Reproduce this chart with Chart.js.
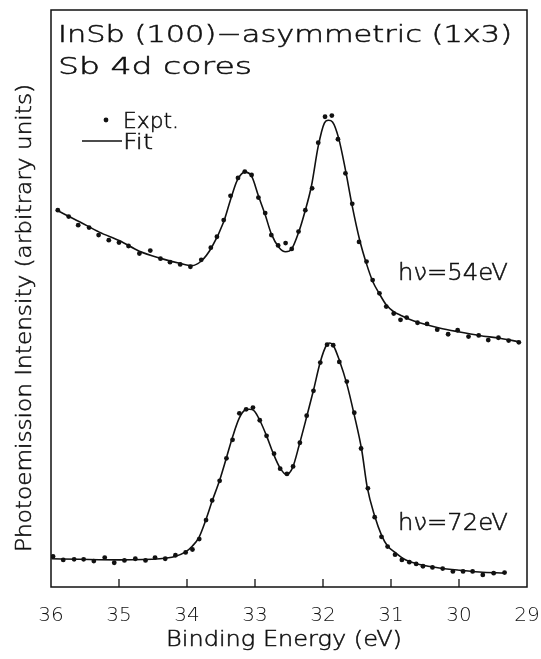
<!DOCTYPE html>
<html>
<head>
<meta charset="utf-8">
<script src="https://cdn.jsdelivr.net/npm/chart.js@4/dist/chart.umd.min.js"></script>
<style>
  html, body { margin: 0; padding: 0; background: #fff; }
</style>
</head>
<body>
<canvas id="myChart" width="541" height="659"></canvas>
<script>
// Sb 4d core level spectra, InSb(100) asymmetric (1x3)
const xTickValues = [36, 35, 34, 33, 32, 31, 30, 29];

// hv = 54 eV, measured points
const energy54 = [35.90, 35.74, 35.60, 35.44, 35.30, 35.15, 35.00, 34.86, 34.70, 34.54, 34.39, 34.25, 34.10, 33.95,
  33.79, 33.65, 33.56, 33.46, 33.36, 33.25, 33.15, 33.05, 32.95, 32.85, 32.76, 32.66, 32.55, 32.46, 32.36, 32.26,
  32.16, 32.07, 31.97, 31.87, 31.78, 31.67, 31.57, 31.47, 31.36, 31.27, 31.17, 31.07, 30.96, 30.86, 30.77, 30.61,
  30.47, 30.32, 30.16, 30.02, 29.86, 29.71, 29.57, 29.42, 29.27, 29.12];
const expt54 = [65.3, 64.2, 62.7, 62.3, 61.0, 60.1, 59.7, 59.1, 57.8, 58.3, 56.9, 56.3, 55.9, 55.5,
  56.7, 58.8, 60.7, 63.6, 67.8, 70.9, 72.0, 71.4, 67.5, 64.8, 61.0, 59.2, 59.6, 58.6, 61.6, 65.3,
  69.1, 77.0, 81.5, 81.7, 77.6, 71.7, 66.4, 59.8, 56.4, 53.2, 50.9, 48.6, 47.4, 46.3, 46.7, 45.8,
  45.6, 44.6, 43.8, 44.5, 43.4, 43.6, 42.8, 43.2, 42.7, 42.4];

// hv = 54 eV, fit curve
const fitEnergy54 = [35.90, 35.58, 35.29, 34.99, 34.70, 34.40, 34.11, 33.93, 33.79, 33.64, 33.46, 33.36, 33.26,
  33.15, 33.05, 32.95, 32.85, 32.76, 32.65, 32.55, 32.46, 32.36, 32.26, 32.17, 32.07, 31.98, 31.92, 31.86,
  31.77, 31.67, 31.57, 31.46, 31.36, 31.27, 31.17, 31.07, 30.96, 30.86, 30.73, 30.58, 30.29, 29.99, 29.70,
  29.40, 29.11];
const fit54 = [65.2, 63.3, 61.5, 60.0, 58.2, 57.0, 56.1, 55.7, 56.5, 58.8, 63.3, 67.1, 70.5,
  71.9, 71.2, 67.8, 64.5, 61.2, 58.9, 58.1, 58.6, 61.4, 65.3, 69.5, 76.4, 80.4, 80.9, 80.6,
  77.8, 72.3, 66.0, 60.1, 56.0, 53.0, 50.8, 48.9, 47.7, 47.1, 46.4, 45.8, 44.9, 44.2, 43.6,
  43.1, 42.5];

// hv = 72 eV, measured points
const energy72 = [35.97, 35.82, 35.66, 35.52, 35.37, 35.21, 35.07, 34.92, 34.76, 34.61, 34.47, 34.32, 34.17,
  34.02, 33.92, 33.82, 33.72, 33.63, 33.52, 33.42, 33.33, 33.23, 33.13, 33.03, 32.93, 32.83, 32.72, 32.63,
  32.53, 32.44, 32.34, 32.24, 32.14, 32.04, 31.94, 31.85, 31.76, 31.65, 31.54, 31.44, 31.34, 31.24, 31.14,
  31.05, 30.94, 30.84, 30.73, 30.63, 30.53, 30.39, 30.24, 30.09, 29.94, 29.80, 29.65, 29.49, 29.33];
const expt72 = [5.3, 4.7, 4.8, 4.8, 4.5, 5.1, 4.2, 4.6, 4.9, 4.6, 5.1, 4.9, 5.5,
  6.0, 6.5, 8.3, 11.6, 15.0, 18.4, 22.3, 25.5, 30.1, 30.8, 31.1, 28.9, 26.2, 23.1, 20.5,
  19.6, 20.9, 25.0, 29.7, 34.0, 38.9, 42.0, 41.9, 39.0, 35.6, 30.2, 24.0, 17.1, 12.1, 8.7,
  7.0, 5.6, 4.7, 4.3, 4.0, 3.6, 3.4, 3.2, 2.7, 2.7, 2.7, 2.1, 2.4, 2.5];

// hv = 72 eV, fit curve
const fitEnergy72 = [35.99, 35.58, 34.99, 34.40, 34.18, 34.02, 33.92, 33.82, 33.73, 33.63, 33.52, 33.42, 33.33,
  33.23, 33.14, 33.08, 33.01, 32.93, 32.83, 32.73, 32.63, 32.54, 32.45, 32.35, 32.24, 32.14, 32.04, 31.95,
  31.90, 31.85, 31.76, 31.65, 31.54, 31.43, 31.35, 31.24, 31.14, 31.05, 30.93, 30.83, 30.73, 30.58, 30.29,
  29.99, 29.70, 29.33];
const fit72 = [4.9, 4.8, 4.7, 4.9, 5.3, 6.1, 7.1, 8.7, 11.4, 14.9, 18.5, 22.4, 26.0,
  29.3, 30.7, 30.8, 30.5, 28.9, 26.2, 23.1, 20.6, 19.5, 20.6, 24.6, 29.5, 34.1, 39.0, 41.9,
  42.3, 41.9, 39.3, 35.2, 29.8, 23.7, 17.3, 12.3, 9.0, 7.1, 5.9, 5.0, 4.4, 3.9, 3.3,
  2.9, 2.6, 2.4];

const FONT = '"DejaVu Sans", sans-serif';
const WEIGHT = '200';
const INK = '#111';

const toPoints = (xs, ys) => xs.map((x, i) => ({ x: x, y: ys[i] }));

// draw text squeezed/stretched to a given width, with a hairline stroke to thicken it a bit
function wideText(ctx, text, x, y, size, width, align) {
  ctx.save();
  ctx.font = WEIGHT + ' ' + size + 'px ' + FONT;
  const w = ctx.measureText(text).width;
  ctx.translate(x, y);
  ctx.scale(width ? width / w : 1, 1);
  ctx.textAlign = align || 'left';
  ctx.textBaseline = 'alphabetic';
  ctx.fillStyle = INK;
  ctx.strokeStyle = INK;
  ctx.lineWidth = 0.5;
  ctx.fillText(text, 0, 0);
  ctx.strokeText(text, 0, 0);
  ctx.restore();
}

const decorations = {
  id: 'decorations',
  afterDraw(chart) {
    const ctx = chart.ctx;
    const a = chart.chartArea;
    const xs = chart.scales.x;
    ctx.save();
    ctx.strokeStyle = INK;
    ctx.lineWidth = 1.5;
    ctx.strokeRect(a.left, a.top, a.right - a.left, a.bottom - a.top);
    // inward ticks along the bottom
    ctx.lineWidth = 1.3;
    xTickValues.forEach(v => {
      const px = xs.getPixelForValue(v);
      if (px <= a.left + 1 || px >= a.right - 1) return;
      ctx.beginPath();
      ctx.moveTo(px, a.bottom);
      ctx.lineTo(px, a.bottom - 8);
      ctx.stroke();
    });
    ctx.restore();

    wideText(ctx, 'InSb (100)\u2212asymmetric (1x3)', 58, 42, 23, 454);
    wideText(ctx, 'Sb 4d cores', 58, 74, 23, 194);

    // legend
    ctx.save();
    ctx.fillStyle = INK;
    ctx.beginPath();
    ctx.arc(106, 120, 2.4, 0, Math.PI * 2);
    ctx.fill();
    ctx.strokeStyle = INK;
    ctx.lineWidth = 1.4;
    ctx.beginPath();
    ctx.moveTo(82, 141);
    ctx.lineTo(122, 141);
    ctx.stroke();
    ctx.restore();
    wideText(ctx, 'Expt.', 123, 128, 22, 56);
    wideText(ctx, 'Fit', 123, 149, 22, 30);

    wideText(ctx, 'h\u03bd=54eV', 398, 280, 23, 110);
    wideText(ctx, 'h\u03bd=72eV', 398, 530, 23, 110);

    // axis titles
    wideText(ctx, 'Binding Energy (eV)', 284, 646, 21, 236, 'center');
    ctx.save();
    ctx.translate(31, 318);
    ctx.rotate(-Math.PI / 2);
    wideText(ctx, 'Photoemission Intensity (arbitrary units)', 0, 0, 21, 468, 'center');
    ctx.restore();
  }
};

const dotStyle = { showLine: false, pointRadius: 2.4, pointHoverRadius: 2.4, pointBackgroundColor: INK, pointBorderWidth: 0 };
const lineStyle = { borderColor: INK, borderWidth: 1.6, pointRadius: 0, fill: false, cubicInterpolationMode: 'monotone' };

const ctx = document.getElementById('myChart').getContext('2d');
const chart = new Chart(ctx, {
  type: 'scatter',
  data: {
    datasets: [
      Object.assign({ label: 'Fit 54 eV', type: 'line', data: toPoints(fitEnergy54, fit54) }, lineStyle),
      Object.assign({ label: 'Fit 72 eV', type: 'line', data: toPoints(fitEnergy72, fit72) }, lineStyle),
      Object.assign({ label: 'Expt. 54 eV', data: toPoints(energy54, expt54) }, dotStyle),
      Object.assign({ label: 'Expt. 72 eV', data: toPoints(energy72, expt72) }, dotStyle)
    ]
  },
  options: {
    responsive: false,
    animation: false,
    layout: { padding: { left: 51, right: 14, top: 10, bottom: 0 } },
    plugins: { legend: { display: false }, tooltip: { enabled: false } },
    scales: {
      x: {
        type: 'linear',
        reverse: true,
        min: 29,
        max: 36,
        grid: { display: false },
        border: { display: false },
        afterBuildTicks: s => { s.ticks = xTickValues.map(v => ({ value: v })); },
        afterFit: s => { s.height = 72; s.paddingLeft = 0; s.paddingRight = 0; },
        ticks: { color: INK, padding: 9, maxRotation: 0, font: { family: FONT, size: 20, weight: WEIGHT } }
      },
      y: { display: false, min: 0, max: 100 }
    }
  },
  plugins: [decorations]
});
</script>
</body>
</html>
